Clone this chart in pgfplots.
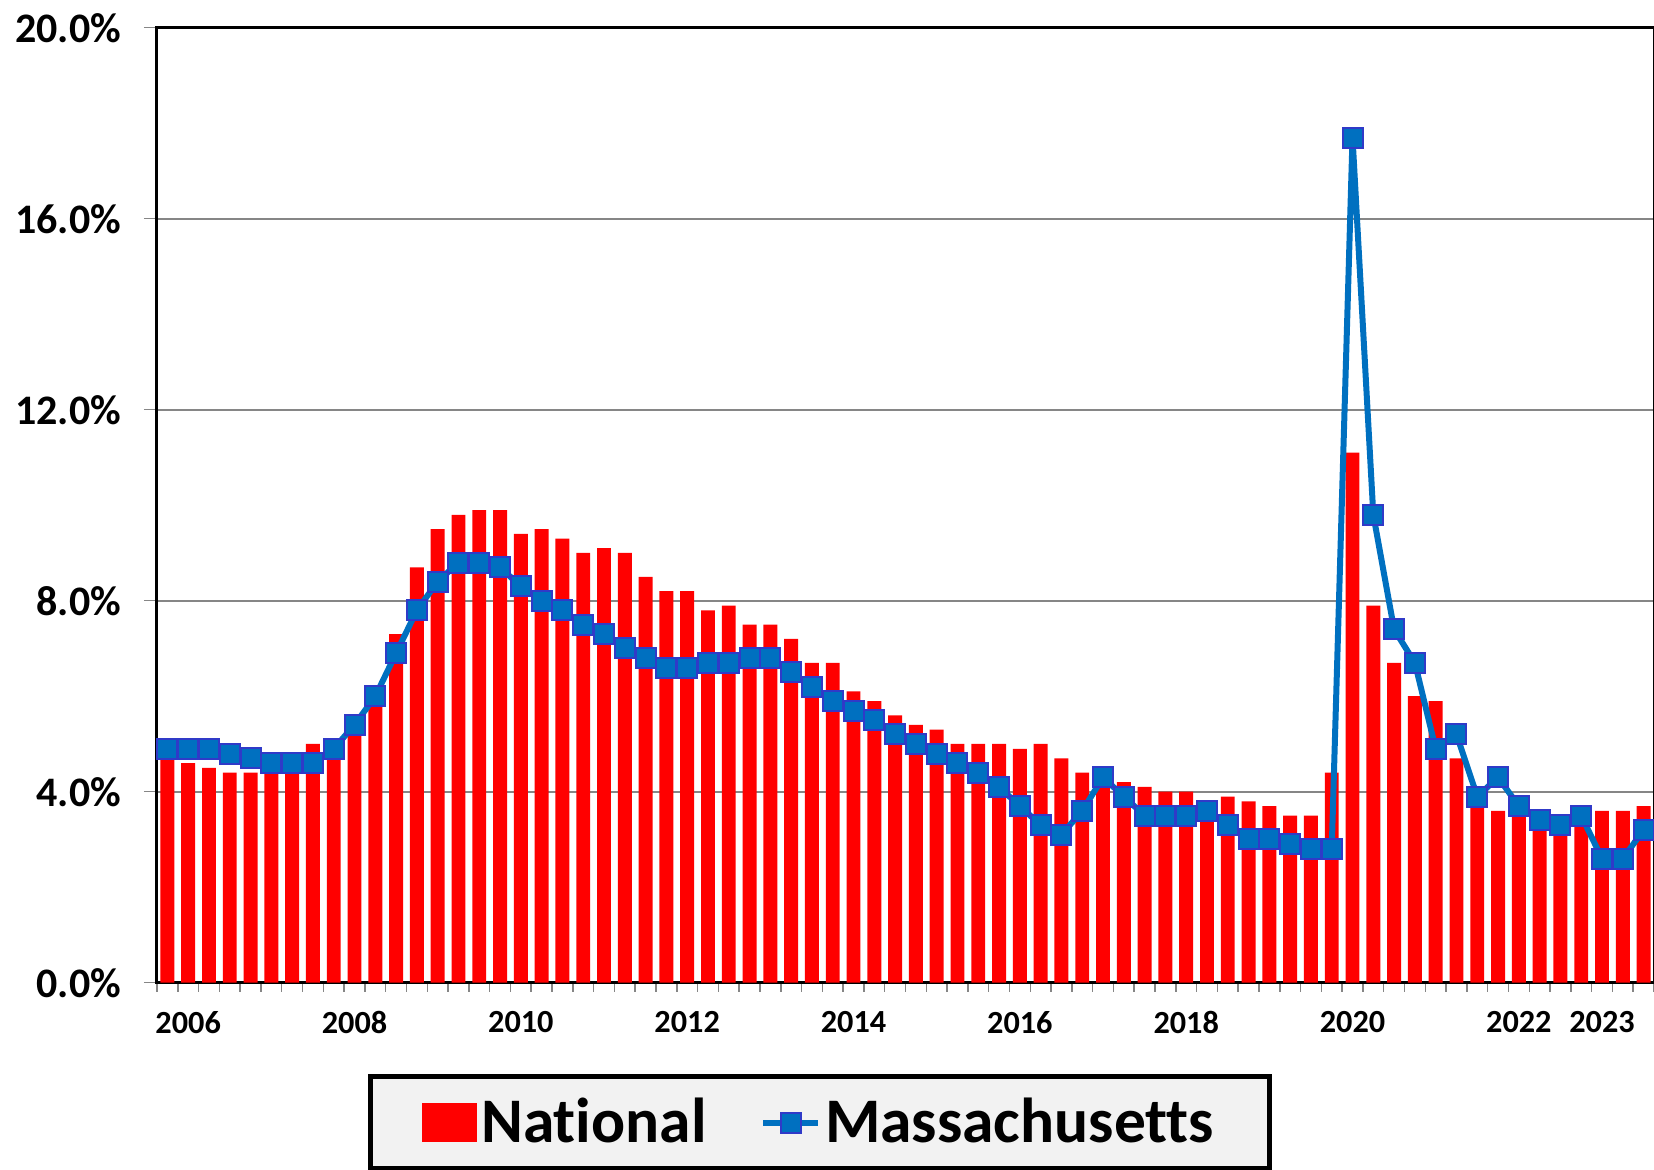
\documentclass[border=0pt]{standalone}
\usepackage{pgfplots}
\pgfplotsset{compat=1.18}
\usepackage{pgfplotstable}
\usepackage{fontspec}
\setmainfont{Carlito}[Ligatures=NoCommon]
\definecolor{nat}{RGB}{255,0,0}
\definecolor{ma}{RGB}{0,112,192}
\definecolor{maedge}{RGB}{48,58,200}
\definecolor{gridgray}{RGB}{134,134,134}
\definecolor{legfill}{RGB}{242,242,242}
\pgfplotsset{
  malegend/.style={legend image code/.code={\draw[mark repeat=2, mark phase=2, ##1] plot coordinates {(0pt,0pt) (11pt,0pt) (22pt,0pt)};}},
  natlegend/.style={legend image code/.code={\fill[nat] (0pt,-7.8pt) rectangle (22pt,7.8pt);}},
}

\pgfplotstableread{
x nat ma
0 4.7 4.9
1 4.6 4.9
2 4.5 4.9
3 4.4 4.8
4 4.4 4.7
5 4.6 4.6
6 4.7 4.6
7 5.0 4.6
8 5.1 4.9
9 5.6 5.4
10 6.1 6.0
11 7.3 6.9
12 8.7 7.8
13 9.5 8.4
14 9.8 8.8
15 9.9 8.8
16 9.9 8.7
17 9.4 8.3
18 9.5 8.0
19 9.3 7.8
20 9.0 7.5
21 9.1 7.3
22 9.0 7.0
23 8.5 6.8
24 8.2 6.6
25 8.2 6.6
26 7.8 6.7
27 7.9 6.7
28 7.5 6.8
29 7.5 6.8
30 7.2 6.5
31 6.7 6.2
32 6.7 5.9
33 6.1 5.7
34 5.9 5.5
35 5.6 5.2
36 5.4 5.0
37 5.3 4.8
38 5.0 4.6
39 5.0 4.4
40 5.0 4.1
41 4.9 3.7
42 5.0 3.3
43 4.7 3.1
44 4.4 3.6
45 4.3 4.3
46 4.2 3.9
47 4.1 3.5
48 4.0 3.5
49 4.0 3.5
50 3.7 3.6
51 3.9 3.3
52 3.8 3.0
53 3.7 3.0
54 3.5 2.9
55 3.5 2.8
56 4.4 2.8
57 11.1 17.7
58 7.9 9.8
59 6.7 7.4
60 6.0 6.7
61 5.9 4.9
62 4.7 5.2
63 3.9 3.9
64 3.6 4.3
65 3.6 3.7
66 3.5 3.4
67 3.5 3.3
68 3.5 3.5
69 3.6 2.6
70 3.6 2.6
71 3.7 3.2
}\datatable

\begin{document}
\begin{tikzpicture}
\begin{axis}[
  scale only axis,
  width=598.8pt, height=382pt,
  xmin=-0.5, xmax=71.5,
  ymin=0, ymax=20,
  ytick={0,4,8,12,16,20},
  yticklabels={0.0\%,4.0\%,8.0\%,12.0\%,16.0\%,20.0\%},
  xtick={1,9,17,25,33,41,49,57,65,69},
  xticklabels={2006,2008,2010,2012,2014,2016,2018,2020,2022,2023},
  minor xtick={-0.5,0.5,...,71.5},
  ymajorgrids,
  grid style={gridgray, line width=0.8pt},
  axis line style={black, line width=1.2pt},
  tick pos=left,
  tick align=outside,
  major tick length=5.2pt,
  minor tick length=3.6pt,
  tick style={gridgray, line width=0.6pt},
  every major x tick/.style={draw=none},
  xticklabel style={font=\fontsize{12.9}{14}\selectfont\bfseries, anchor=north, inner sep=0pt, yshift=-6pt},
  yticklabel style={font=\fontsize{16.8}{18}\selectfont\bfseries, anchor=east, inner sep=0pt, xshift=-9pt},
  legend columns=2,
  legend style={
    at={(0.443,-0.096)}, anchor=north,
    draw=black, line width=2pt, fill=legfill,
    inner xsep=20.7pt, inner ysep=6.6pt,
    font=\fontsize{25.4}{28}\selectfont\bfseries,
    /tikz/every even column/.append style={column sep=20pt},
    nodes={inner xsep=1.5pt, inner ysep=2pt},
  },
]
\addplot[ybar, bar width=0.67, fill=nat, draw=none, natlegend]
  table[x=x, y=nat]{\datatable};
\addlegendentry{National}
\addplot[color=ma, line width=2.4pt, mark=square*, mark size=4pt,
  mark options={fill=ma, draw=maedge, line width=0.8pt, solid}, malegend]
  table[x=x, y=ma]{\datatable};
\addlegendentry{Massachusetts}
\end{axis}
\pgfresetboundingbox
\path ([xshift=-62.8pt,yshift=-74.9pt]current axis.south west) rectangle ([yshift=11.1pt]current axis.north east);
\end{tikzpicture}
\end{document}
